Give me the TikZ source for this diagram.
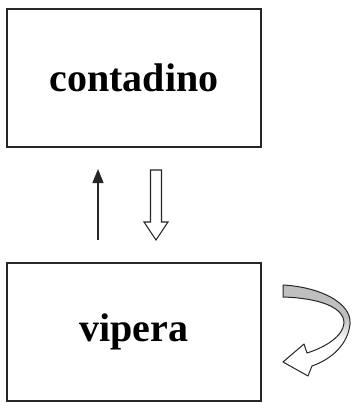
\documentclass[tikz,border=0pt]{standalone}
\usepackage{fontspec}
\setmainfont{Liberation Serif}
\usetikzlibrary{arrows.meta}
\begin{document}
\begin{tikzpicture}[x=1pt,y=-1pt,
  box/.style={draw=black!85, line width=1.6pt, minimum width=254pt, minimum height=138pt, inner sep=0pt,
    font=\bfseries\fontsize{40}{46}\selectfont},
  thinarrow/.style={draw=black!85, line width=1.4pt, -{Triangle[length=14pt,width=11pt]}},
  hollow/.style={draw=black!85, line width=1.1pt, line join=miter}]
\useasboundingbox (0,0) rectangle (351,403);
\node[box] (top) at (134,78) {contadino};
\node[box] (bot) at (134,332) {vipera};
% thin up arrow
\coordinate (ua) at (98,240);
\coordinate (ub) at (98,169);
\draw[thinarrow] (ua) -- (ub);
% hollow down arrow
\draw[hollow, fill=white] (150.5,170) -- (161.5,170) -- (161.5,222) -- (168,222) -- (156,240) -- (144,222) -- (150.5,222) -- cycle;
% curved hollow arrow
\def\curvedpath{(283,285) .. controls (320,287) and (352,303) .. (350,324)
  .. controls (348,344) and (332,359) .. (312,366)
  -- (308,376) -- (283,362) -- (304,344) -- (307,353)
  .. controls (326,347) and (343,336) .. (344,323)
  .. controls (344,306) and (316,298) .. (283,297) -- cycle}
\fill[white] \curvedpath;
\begin{scope}
  \clip \curvedpath;
  \fill[gray!50] (270,270) rectangle (351,318);
  \shade[top color=gray!50, bottom color=white] (270,318) rectangle (351,342);
\end{scope}
\draw[hollow, line width=1pt, line join=round] \curvedpath;
\end{tikzpicture}
\end{document}
